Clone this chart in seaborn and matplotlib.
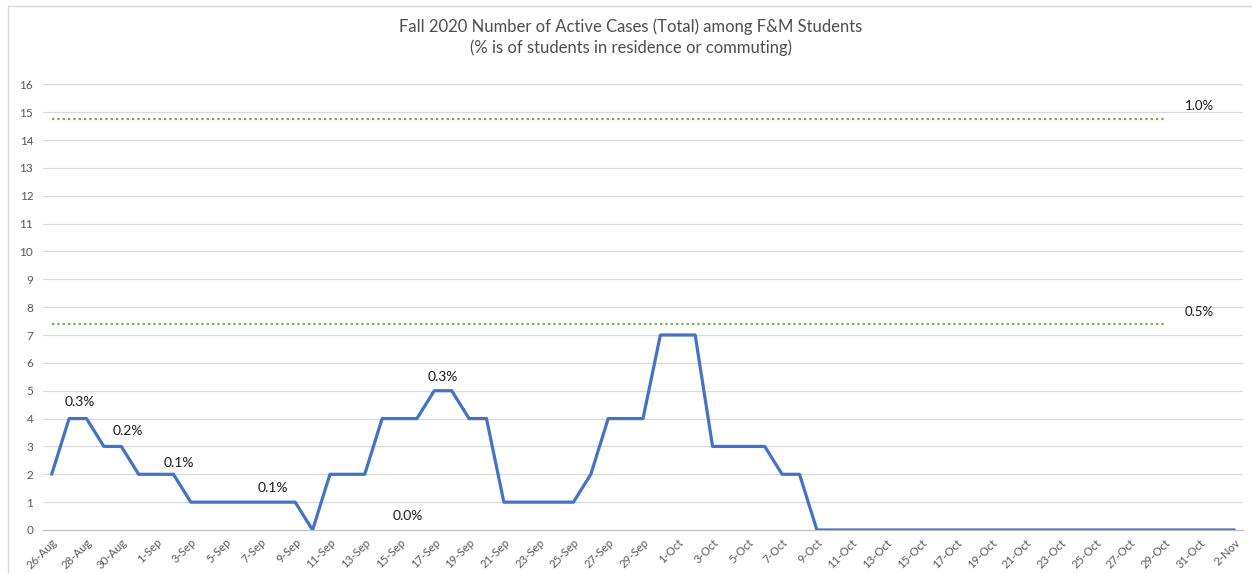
import pandas as pd
import seaborn as sns
import matplotlib.pyplot as plt
from matplotlib.lines import Line2D

# Daily active cases, 26-Aug to 2-Nov 2020
start_date = '2020-08-26'
cases = [2, 4, 4, 3, 3, 2, 2, 2, 1, 1, 1, 1, 1, 1, 1, 0, 2, 2, 2, 4,
         4, 4, 5, 5, 4, 4, 1, 1, 1, 1, 1, 2, 4, 4, 4, 7, 7, 7, 3, 3,
         3, 3, 2, 2, 0, 0, 0, 0, 0, 0, 0, 0, 0, 0, 0, 0, 0, 0, 0, 0,
         0, 0, 0, 0, 0, 0, 0, 0, 0]

# Percent annotations (day index, y, text)
pct_days = [1.6, 4.4, 7.3, 12.7, 20.5, 22.5]
pct_y = [4.6, 3.55, 2.4, 1.5, 0.5, 5.5]
pct_text = ['0.3%', '0.2%', '0.1%', '0.1%', '0.0%', '0.3%']

# Threshold lines (1.0% and 0.5% of students)
thresh_vals = [14.77, 7.38]
thresh_text = ['1.0%', '0.5%']
thresh_end_day = 64

dates = pd.date_range(start_date, periods=len(cases), freq='D')
df = pd.DataFrame({'day': range(len(cases)), 'cases': cases})
tick_labels = [f'{d.day}-{d.strftime("%b")}' for d in dates]

sns.set_style('white')
plt.rcParams['font.family'] = ['Lato', 'DejaVu Sans']

fig = plt.figure(figsize=(12.52, 5.73), dpi=100)
ax = fig.add_axes([43 / 1252, 1 - 530 / 573, 1200 / 1252, (530 - 84.3) / 573])

grid_c = '#D9D9D9'
text_c = '#595959'

for v in range(1, 17):
    ax.axhline(v, color=grid_c, lw=0.9, zorder=0)

sns.lineplot(data=df, x='day', y='cases', ax=ax, color='#4472C4', lw=2.3, zorder=3)

for v, t in zip(thresh_vals, thresh_text):
    ax.hlines(v, 0, thresh_end_day, colors='#70AD47', lw=1.6,
              linestyles=(0, (1, 1.4)), zorder=2)
    ax.text(66.0, v + 0.45, t, fontsize=9.5, color='#1a1a1a', ha='center', va='center')

for d, y, t in zip(pct_days, pct_y, pct_text):
    ax.text(d, y, t, fontsize=10, color='#1a1a1a', ha='center', va='center')

ax.set_xlim(-0.5, len(cases) - 0.5)
ax.set_ylim(0, 16)
ax.set_yticks(range(0, 17))
ax.set_yticklabels([str(v) for v in range(0, 17)], fontsize=8.5, color=text_c)
ax.set_xticks(range(0, len(cases), 2))
ax.set_xticklabels(tick_labels[::2], rotation=45, ha='right', rotation_mode='anchor',
                   fontsize=8.2, color=text_c)
ax.set_xticks([i - 0.5 for i in range(0, len(cases), 2)], minor=True)
ax.tick_params(axis='x', which='major', length=0, pad=5)
ax.tick_params(axis='x', which='minor', length=4, color='#BFBFBF', width=0.8)
ax.tick_params(axis='y', length=0, pad=7)
ax.set_xlabel('')
ax.set_ylabel('')
for s in ['top', 'right', 'left']:
    ax.spines[s].set_visible(False)
ax.spines['bottom'].set_color('#BFBFBF')
ax.spines['bottom'].set_linewidth(0.9)

fig.text(631 / 1252, 1 - 27 / 573, 'Fall 2020 Number of Active Cases (Total) among F&M Students',
         ha='center', va='center', fontsize=12, color='#4d4d4d')
fig.text(631 / 1252, 1 - 48 / 573, '(% is of students in residence or commuting)',
         ha='center', va='center', fontsize=12, color='#4d4d4d')

# frame edges of the screenshot
fig.add_artist(Line2D([8 / 1252, 8 / 1252], [0, 1 - 6 / 573], color=grid_c, lw=1))
fig.add_artist(Line2D([8 / 1252, 1], [1 - 6 / 573, 1 - 6 / 573], color=grid_c, lw=1))

fig.savefig('out.png', dpi=100)
